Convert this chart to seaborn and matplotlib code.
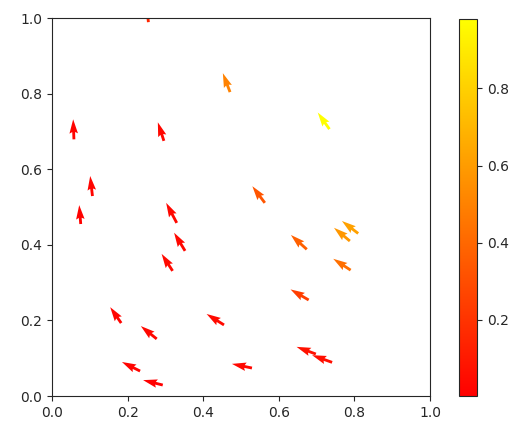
import matplotlib
matplotlib.use('Agg')
import matplotlib.pyplot as plt
import seaborn as sns
import numpy as np

# arrow tails
x = [0.255, 0.058, 0.296, 0.471, 0.734, 0.107, 0.076, 0.330, 0.352, 0.319, 0.563, 0.674,
     0.788, 0.810, 0.790, 0.679, 0.183, 0.277, 0.455, 0.233, 0.293, 0.529, 0.698, 0.741]
y = [0.989, 0.679, 0.675, 0.804, 0.706, 0.529, 0.455, 0.458, 0.384, 0.331, 0.511, 0.388,
     0.410, 0.430, 0.333, 0.254, 0.193, 0.151, 0.188, 0.066, 0.029, 0.074, 0.111, 0.089]
# arrow components
u = [-0.005, -0.002, -0.016, -0.019, -0.031, -0.006, -0.004, -0.028, -0.029, -0.029, -0.033, -0.042,
     -0.042, -0.043, -0.046, -0.048, -0.029, -0.042, -0.046, -0.048, -0.052, -0.053, -0.051, -0.053]
v = [0.050, 0.053, 0.049, 0.050, 0.044, 0.053, 0.050, 0.053, 0.048, 0.045, 0.044, 0.038,
     0.035, 0.033, 0.030, 0.028, 0.042, 0.034, 0.029, 0.024, 0.013, 0.011, 0.019, 0.019]
# colour values
c = [0.15, 0.02, 0.03, 0.50, 0.98, 0.02, 0.01, 0.03, 0.03, 0.04, 0.33, 0.37,
     0.58, 0.62, 0.43, 0.24, 0.02, 0.03, 0.04, 0.02, 0.003, 0.03, 0.07, 0.06]

sns.set_style('ticks')

fig = plt.figure(figsize=(5.3, 4.38), dpi=100)
ax = fig.add_axes([52/530, 42/438, 378/530, 378/438])
cax = fig.add_axes([459/530, 42/438, 18/530, 377/438])

q = ax.quiver(x, y, u, v, c, cmap='autumn', angles='xy', scale_units='xy', scale=1)
ax.set_xlim(0, 1)
ax.set_ylim(0, 1)
fig.colorbar(q, cax=cax)

fig.savefig('out.png', dpi=100)
